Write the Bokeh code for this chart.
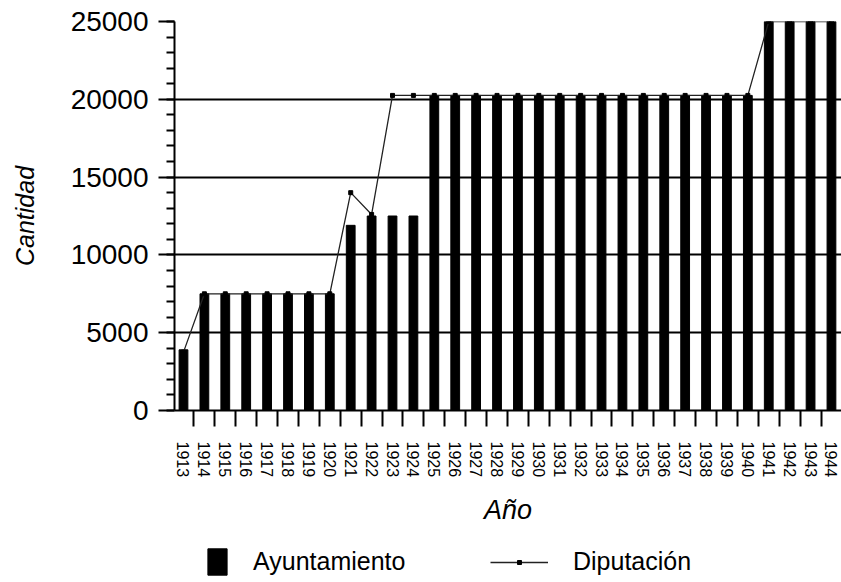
from bokeh.plotting import figure
from bokeh.layouts import column
from bokeh.models import (ColumnDataSource, FixedTicker, SingleIntervalTicker,
                          Legend, LegendItem, Range1d)
from bokeh.embed import file_html
from bokeh.resources import INLINE

years = [1913, 1914, 1915, 1916, 1917, 1918, 1919, 1920, 1921, 1922, 1923,
         1924, 1925, 1926, 1927, 1928, 1929, 1930, 1931, 1932, 1933, 1934,
         1935, 1936, 1937, 1938, 1939, 1940, 1941, 1942, 1943, 1944]
ayuntamiento = [3900, 7500, 7500, 7500, 7500, 7500, 7500, 7500, 11900, 12500,
                12500, 12500, 20250, 20250, 20250, 20250, 20250, 20250, 20250,
                20250, 20250, 20250, 20250, 20250, 20250, 20250, 20250, 20250,
                25000, 25000, 25000, 25000]
diputacion = [3750, 7500, 7500, 7500, 7500, 7500, 7500, 7500, 14000, 12600,
              20250, 20250, 20250, 20250, 20250, 20250, 20250, 20250, 20250,
              20250, 20250, 20250, 20250, 20250, 20250, 20250, 20250, 20250,
              25000, 25000, 25000, 25000]
y_ticks = [0, 5000, 10000, 15000, 20000, 25000]
series_names = ["Ayuntamiento", "Diputación"]

src = ColumnDataSource(dict(year=years, ayun=ayuntamiento, dip=diputacion))

FONT = "Liberation Sans"

p = figure(width=841, height=536, output_backend="svg", toolbar_location=None,
           x_range=Range1d(1912.57, 1944.48), y_range=Range1d(0, 25000),
           min_border_left=174, min_border_top=21, min_border_bottom=126,
           min_border_right=0)
p.outline_line_color = None
p.background_fill_color = "white"
p.border_fill_color = "white"

p.xgrid.visible = False
p.ygrid.ticker = FixedTicker(ticks=y_ticks)
p.ygrid.grid_line_color = "black"
p.ygrid.grid_line_width = 2

p.vbar(x="year", top="ayun", width=0.42, source=src,
       fill_color="black", line_color="black")
p.line(x="year", y="dip", source=src, line_color="#222222", line_width=1.3)
p.scatter(x="year", y="dip", source=src, marker="square", size=4,
          fill_color="black", line_color="black")

# x axis
xa = p.xaxis[0]
xa.ticker = FixedTicker(ticks=years, minor_ticks=[y + 0.5 for y in years])
xa.major_tick_out = 0
xa.major_tick_in = 0
xa.minor_tick_out = 16
xa.minor_tick_in = 0
xa.minor_tick_line_color = "black"
xa.minor_tick_line_width = 2
xa.axis_line_color = "black"
xa.axis_line_width = 2
xa.major_label_orientation = "vertical"
xa.major_label_standoff = 15
xa.major_label_text_font = FONT
xa.major_label_text_font_size = "16px"
xa.major_label_text_color = "black"
xa.axis_label = "Año"
xa.axis_label_text_font = FONT
xa.axis_label_text_font_style = "italic"
xa.axis_label_text_font_size = "27px"
xa.axis_label_text_color = "black"
xa.axis_label_standoff = 15

# y axis
ya = p.yaxis[0]
ya.ticker = SingleIntervalTicker(interval=5000, num_minor_ticks=5)
ya.major_tick_out = 16
ya.major_tick_in = 0
ya.minor_tick_out = 8
ya.minor_tick_in = 0
ya.major_tick_line_width = 2
ya.minor_tick_line_width = 2
ya.major_tick_line_color = "black"
ya.minor_tick_line_color = "black"
ya.axis_line_color = "black"
ya.axis_line_width = 2
ya.major_label_standoff = 10
ya.major_label_text_font = FONT
ya.major_label_text_font_size = "28px"
ya.major_label_text_color = "black"
ya.axis_label = "Cantidad"
ya.axis_label_text_font = FONT
ya.axis_label_text_font_style = "italic"
ya.axis_label_text_font_size = "25px"
ya.axis_label_text_color = "black"
ya.axis_label_standoff = 29

# legend strip below the chart (proxy renderers lie outside its visible range)
lg = figure(width=841, height=46, output_backend="svg", toolbar_location=None,
            x_range=Range1d(0, 1), y_range=Range1d(0, 1),
            x_axis_type=None, y_axis_type=None,
            min_border_left=0, min_border_right=0, min_border_top=0,
            min_border_bottom=0)
lg.outline_line_color = None
lg.xgrid.visible = False
lg.ygrid.visible = False
proxy_bar = lg.vbar(x="year", top="ayun", width=0.42, source=src,
                    fill_color="black", line_color="black")
proxy_line = lg.line(x="year", y="dip", source=src, line_color="#222222", line_width=1.3)
proxy_pts = lg.scatter(x="year", y="dip", source=src, marker="square", size=4,
                       fill_color="black", line_color="black")

leg_a = Legend(items=[LegendItem(label=series_names[0], renderers=[proxy_bar])],
               location=(31, 4), orientation="horizontal",
               glyph_width=24, glyph_height=33, label_standoff=24,
               padding=0, margin=0, border_line_color=None,
               background_fill_alpha=0, label_text_font=FONT,
               label_text_font_size="25px", label_text_color="black")
leg_b = Legend(items=[LegendItem(label=series_names[1], renderers=[proxy_line, proxy_pts])],
               location=(316, 6), orientation="horizontal",
               glyph_width=58, glyph_height=10, label_standoff=25,
               padding=0, margin=0, border_line_color=None,
               background_fill_alpha=0, label_text_font=FONT,
               label_text_font_size="25px", label_text_color="black")
lg.add_layout(leg_a, "center")
lg.add_layout(leg_b, "center")

layout = column(p, lg, spacing=0)
open("out.html", "w").write(file_html(layout, INLINE))
